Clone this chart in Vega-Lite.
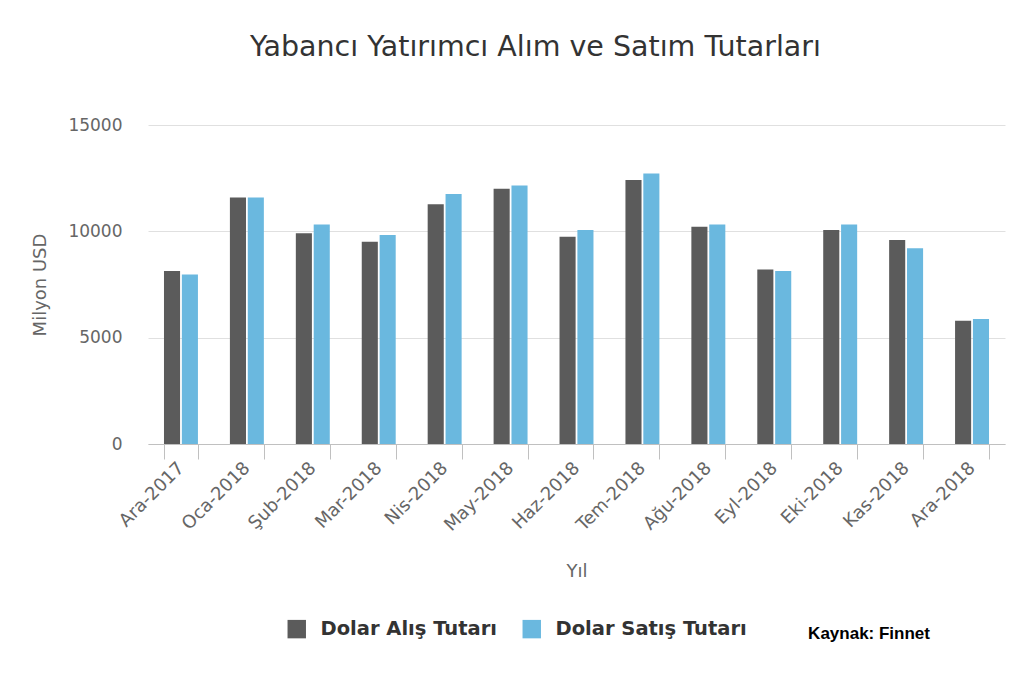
{
  "$schema": "https://vega.github.io/schema/vega-lite/v6.json",
  "width": 857,
  "height": 319,
  "autosize": {"type": "none"},
  "padding": {"left": 148, "top": 125, "right": 19, "bottom": 239},
  "background": "white",
  "title": {
    "text": "Yabancı Yatırımcı Alım ve Satım Tutarları",
    "font": "DejaVu Sans",
    "fontSize": 28.5,
    "fontWeight": "normal",
    "color": "#333333",
    "anchor": "middle",
    "dx": -41,
    "offset": 55
  },
  "config": {
    "view": {"stroke": null},
    "axis": {"labelFont": "DejaVu Sans", "titleFont": "DejaVu Sans"},
    "legend": {"labelFont": "DejaVu Sans"}
  },
  "data": {
    "values": [
      {"ay": "Ara-2017", "seri": "Dolar Alış Tutarı", "tutar": 8130},
      {"ay": "Ara-2017", "seri": "Dolar Satış Tutarı", "tutar": 7970},
      {"ay": "Oca-2018", "seri": "Dolar Alış Tutarı", "tutar": 11590},
      {"ay": "Oca-2018", "seri": "Dolar Satış Tutarı", "tutar": 11590},
      {"ay": "Şub-2018", "seri": "Dolar Alış Tutarı", "tutar": 9910},
      {"ay": "Şub-2018", "seri": "Dolar Satış Tutarı", "tutar": 10320},
      {"ay": "Mar-2018", "seri": "Dolar Alış Tutarı", "tutar": 9510},
      {"ay": "Mar-2018", "seri": "Dolar Satış Tutarı", "tutar": 9830},
      {"ay": "Nis-2018", "seri": "Dolar Alış Tutarı", "tutar": 11270},
      {"ay": "Nis-2018", "seri": "Dolar Satış Tutarı", "tutar": 11750},
      {"ay": "May-2018", "seri": "Dolar Alış Tutarı", "tutar": 12000},
      {"ay": "May-2018", "seri": "Dolar Satış Tutarı", "tutar": 12160},
      {"ay": "Haz-2018", "seri": "Dolar Alış Tutarı", "tutar": 9750},
      {"ay": "Haz-2018", "seri": "Dolar Satış Tutarı", "tutar": 10060},
      {"ay": "Tem-2018", "seri": "Dolar Alış Tutarı", "tutar": 12410},
      {"ay": "Tem-2018", "seri": "Dolar Satış Tutarı", "tutar": 12720},
      {"ay": "Ağu-2018", "seri": "Dolar Alış Tutarı", "tutar": 10220},
      {"ay": "Ağu-2018", "seri": "Dolar Satış Tutarı", "tutar": 10320},
      {"ay": "Eyl-2018", "seri": "Dolar Alış Tutarı", "tutar": 8210},
      {"ay": "Eyl-2018", "seri": "Dolar Satış Tutarı", "tutar": 8130},
      {"ay": "Eki-2018", "seri": "Dolar Alış Tutarı", "tutar": 10060},
      {"ay": "Eki-2018", "seri": "Dolar Satış Tutarı", "tutar": 10320},
      {"ay": "Kas-2018", "seri": "Dolar Alış Tutarı", "tutar": 9590},
      {"ay": "Kas-2018", "seri": "Dolar Satış Tutarı", "tutar": 9200},
      {"ay": "Ara-2018", "seri": "Dolar Alış Tutarı", "tutar": 5800},
      {"ay": "Ara-2018", "seri": "Dolar Satış Tutarı", "tutar": 5880}
    ]
  },
  "layer": [
    {
      "mark": "bar",
      "encoding": {
        "x": {
          "field": "ay",
          "type": "nominal",
          "sort": null,
          "title": "Yıl",
          "scale": {"paddingInner": 0.485, "paddingOuter": 0.2425},
          "axis": {
            "tickBand": "extent",
            "labelAngle": -45,
            "labelAlign": "right",
            "labelBaseline": "middle",
            "labelFontSize": 18,
            "labelColor": "#666666",
            "labelPadding": 6,
            "tickSize": 15,
            "tickColor": "#c0c0c0",
            "domainColor": "#c0c0c0",
            "titleFontSize": 18,
            "titleFontWeight": "normal",
            "titleColor": "#666666",
            "titlePadding": 28
          }
        },
        "xOffset": {
          "field": "seri",
          "type": "nominal",
          "scale": {"paddingInner": 0.1}
        },
        "y": {
          "field": "tutar",
          "type": "quantitative",
          "title": "Milyon USD",
          "scale": {"domain": [0, 15000], "nice": false},
          "axis": {
            "values": [0, 5000, 10000, 15000],
            "format": "d",
            "domain": false,
            "ticks": false,
            "gridColor": "#e0e0e0",
            "labelFontSize": 17,
            "labelColor": "#666666",
            "labelPadding": 26,
            "titleFontSize": 18,
            "titleFontWeight": "normal",
            "titleColor": "#666666",
            "titlePadding": 18
          }
        },
        "color": {
          "field": "seri",
          "type": "nominal",
          "scale": {
            "domain": ["Dolar Alış Tutarı", "Dolar Satış Tutarı"],
            "range": ["#5b5b5b", "#6ab8df"]
          },
          "legend": {
            "title": null,
            "orient": "none",
            "direction": "horizontal",
            "legendX": 139,
            "legendY": 494,
            "symbolType": "square",
            "symbolSize": 340,
            "symbolStrokeWidth": 0,
            "symbolOpacity": 1,
            "labelFontSize": 19.5,
            "labelFontWeight": "bold",
            "labelColor": "#333333",
            "labelLimit": 400,
            "labelOffset": 14,
            "columnPadding": 24
          }
        }
      }
    },
    {
      "data": {"values": [{"kaynak": "Kaynak: Finnet"}]},
      "mark": {
        "type": "text",
        "font": "Liberation Sans",
        "fontSize": 17,
        "fontWeight": "bold",
        "color": "#000000",
        "align": "left",
        "baseline": "middle",
        "dx": -98,
        "dy": 190
      },
      "encoding": {
        "x": {"datum": "Kas-2018"},
        "y": {"datum": 0},
        "text": {"field": "kaynak"}
      }
    }
  ]
}
